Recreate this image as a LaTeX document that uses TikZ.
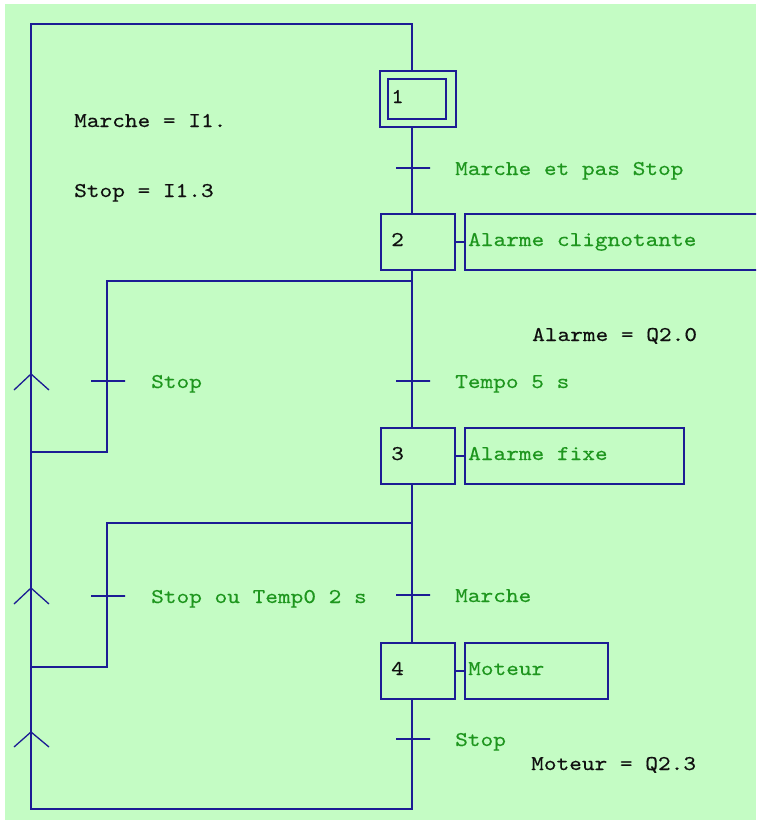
\documentclass[tikz,border=0pt]{standalone}
\usepackage{fontspec}
\newfontfamily\mono{lmmono10-regular.otf}[FakeStretch=1.15,FakeBold=0.3]
\definecolor{bggreen}{HTML}{C4FCC4}
\definecolor{lineblue}{HTML}{1C1C94}
\definecolor{txtgreen}{HTML}{1E961E}
\definecolor{txtblack}{HTML}{101010}
\tikzset{
  wire/.style={draw=lineblue, line width=1.5pt},
  stepbox/.style={draw=lineblue, line width=1.5pt, rectangle, minimum width=74pt, minimum height=56pt, inner sep=0pt},
  actbox/.style={draw=lineblue, line width=1.5pt, rectangle, minimum height=56pt, inner sep=0pt},
  tbar/.style={draw=lineblue, line width=1.5pt, rectangle, minimum width=34pt, minimum height=0pt, inner sep=0pt},
  chev/.style={draw=lineblue, line width=1.3pt},
  lbl/.style={font=\mono\fontsize{21}{24}\selectfont, text=txtgreen, anchor=base west, inner sep=0pt},
  cmt/.style={font=\mono\fontsize{21}{24}\selectfont, text=txtblack, anchor=base west, inner sep=0pt},
}
\begin{document}
\begin{tikzpicture}[x=1pt,y=-1pt]
\useasboundingbox (0,0) rectangle (756,820);
\clip (0,0) rectangle (756,820);
\fill[white] (0,0) rectangle (756,820);
\fill[bggreen] (4.5,4) rectangle (756,820);

% steps
\node[stepbox, minimum width=76pt] (s1) at (418,99) {};
\node[stepbox, minimum width=58pt, minimum height=40pt] (s1i) at (417,99) {};
\node[stepbox] (s2) at (418,242) {};
\node[stepbox] (s3) at (418,456) {};
\node[stepbox] (s4) at (418,671) {};

% actions
\node[actbox, minimum width=315pt] (a2) at (622.5,242) {};
\node[actbox, minimum width=219pt] (a3) at (574.5,456) {};
\node[actbox, minimum width=143pt] (a4) at (536.5,671) {};

% step numbers
\node[cmt] (n1) at (391,103) {1};
\node[cmt] (n2) at (391,246) {2};
\node[cmt] (n3) at (391,460) {3};
\node[cmt] (n4) at (391,675) {4};

% action texts
\node[lbl] (x2) at (468,246) {Alarme clignotante};
\node[lbl] (x3) at (468,460) {Alarme fixe};
\node[lbl] (x4) at (468,675) {Moteur};

% coordinates
\coordinate (TR) at (412,24);
\coordinate (TL) at (31,24);
\coordinate (BL) at (31,809);
\coordinate (BR) at (412,809);
\coordinate (J1) at (412,281);
\coordinate (J1a) at (107,281);
\coordinate (J1b) at (107,452);
\coordinate (J1c) at (31,452);
\coordinate (J2) at (412,523);
\coordinate (J2a) at (107,523);
\coordinate (J2b) at (107,667);
\coordinate (J2c) at (31,667);

% connectors
\draw[wire] (s1.north -| TR) -- (TR) -- (TL) -- (BL) -- (BR) -- (s4.south -| BR);
\draw[wire] (s1.south -| TR) -- (s2.north -| TR);
\draw[wire] (s2.south -| TR) -- (s3.north -| TR);
\draw[wire] (s3.south -| TR) -- (s4.north -| TR);
\draw[wire] (J1) -- (J1a) -- (J1b) -- (J1c);
\draw[wire] (J2) -- (J2a) -- (J2b) -- (J2c);
\draw[wire] (s2.east) -- (a2.west);
\draw[wire] (s3.east) -- (a3.west);
\draw[wire] (s4.east) -- (a4.west);

% transitions
\node[tbar] (t1) at (413,168) {};
\node[tbar] (t2) at (413,381) {};
\node[tbar] (t3) at (413,595) {};
\node[tbar] (t4) at (413,739) {};
\node[tbar] (t5) at (108,381) {};
\node[tbar] (t6) at (108,596) {};

% transition labels
\node[lbl] (l1) at (455,175) {Marche et pas Stop};
\node[lbl] (l2) at (455,388) {Tempo 5 s};
\node[lbl] (l3) at (455,602) {Marche};
\node[lbl] (l4) at (455,746) {Stop};
\node[lbl] (l5) at (151,388) {Stop};
\node[lbl] (l6) at (151,603) {Stop ou Temp0 2 s};

% direction marks
\draw[chev] (14,390) -- (31,374) -- (49,390);
\draw[chev] (14,604) -- (31,588) -- (49,604);
\draw[chev] (14,747) -- (31,732) -- (49,747);

% comments
\node[cmt] (c1) at (74,127) {Marche = I1.};
\node[cmt] (c2) at (74,197) {Stop = I1.3};
\node[cmt] (c3) at (532,341) {Alarme = Q2.0};
\node[cmt] (c4) at (531,770) {Moteur = Q2.3};
\end{tikzpicture}
\end{document}
